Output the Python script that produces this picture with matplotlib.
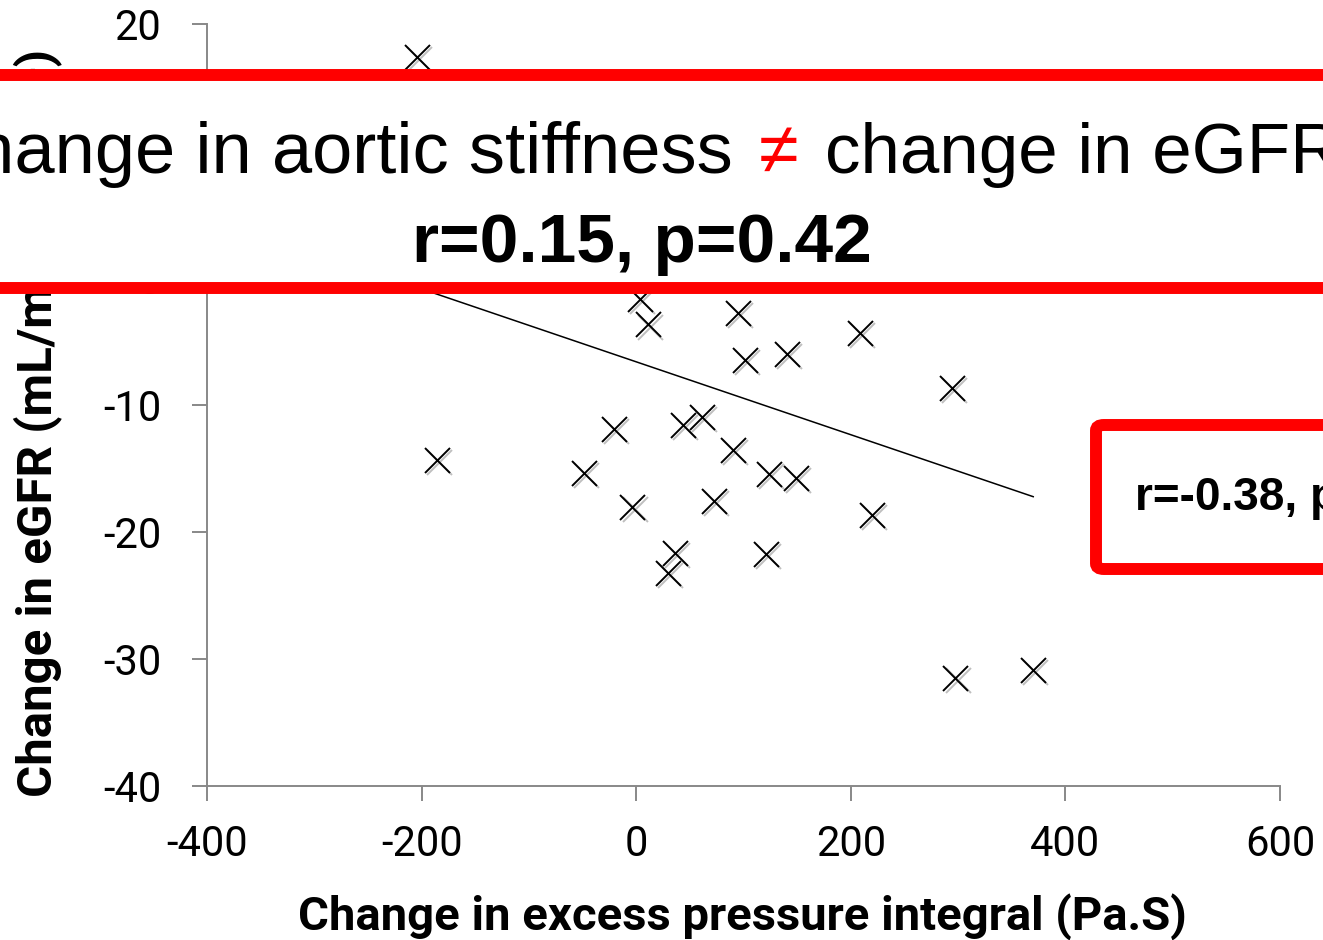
import numpy as np
import matplotlib
matplotlib.use('Agg')
import matplotlib.pyplot as plt
from matplotlib import patches
from matplotlib import patheffects as pe

plt.rcParams['axes.unicode_minus'] = False

# change in excess pressure integral (Pa.S) vs change in eGFR
epi_change = [-204, 4, 11, 95, 102, 141, 209, 295, -185, -48, -20, -3, 44, 62,
              91, 124, 149, 73, 37, 30, 121, 220, 298, 370]
egfr_change = [17.4, -1.7, -3.7, -2.8, -6.5, -6.0, -4.4, -8.7, -14.4, -15.4, -11.9,
               -18.1, -11.6, -11.0, -13.6, -15.5, -15.8, -17.6, -21.7, -23.3, -21.8,
               -18.7, -31.5, -30.9]

# trend line
trend_slope = -0.0287
trend_intercept = -6.6

x_ticks = [-400, -200, 0, 200, 400, 600]
y_ticks = [-40, -30, -20, -10, 0, 10, 20]

title_left = 'Change in aortic stiffness'
title_sign = '\u2260'
title_right = 'change in eGFR'
title_stats = 'r=0.15, p=0.42'
box_stats = 'r=-0.38, p'

W, H = 1323, 940
fig = plt.figure(figsize=(W / 100, H / 100), dpi=100)
ax = fig.add_axes([207 / W, 1 - 786 / H, (1280 - 207) / W, (786 - 24) / H])

grey = '#888888'
ax.plot(epi_change, egfr_change, linestyle='none', marker='x', markersize=18,
        markeredgewidth=1.4, color='black',
        path_effects=[pe.SimpleLineShadow(offset=(1.5, -1.5), alpha=0.25), pe.Normal()])

xs = np.array([min(epi_change), max(epi_change)])
ax.plot(xs, trend_slope * xs + trend_intercept, color='black', linewidth=1.1)

ax.set_xlim(-400, 600)
ax.set_ylim(-40, 20)
ax.set_xticks(x_ticks)
ax.set_yticks(y_ticks)
for s in ['top', 'right']:
    ax.spines[s].set_visible(False)
for s in ['left', 'bottom']:
    ax.spines[s].set_color(grey)
    ax.spines[s].set_linewidth(1.4)
ax.tick_params(direction='out', length=11, width=1.4, color=grey, labelsize=30)
ax.tick_params(axis='x', pad=16)
ax.tick_params(axis='y', pad=22)
for lab in ax.get_xticklabels() + ax.get_yticklabels():
    lab.set_fontfamily('Roboto')

fig.text(742 / W, 1 - 930 / H, 'Change in excess pressure integral (Pa.S)',
         ha='center', va='baseline', fontsize=34, fontweight='bold', family='Roboto')
fig.text(38 / W, 1 - 797 / H, 'Change in eGFR (mL/min/1.73m\u00b2)', rotation=90,
         ha='center', va='bottom', fontsize=35.5, fontweight='bold', family='Roboto')

# big title box
fig.add_artist(patches.Rectangle((-30 / W, 1 - 288 / H), (W + 60) / W, (288 - 75) / H,
                                 transform=fig.transFigure, facecolor='white',
                                 edgecolor='#ff0000', linewidth=8.6, zorder=5))
fam = ['Liberation Sans', 'DejaVu Sans']
fig.text(733 / W, 1 - 173 / H, title_left, ha='right', va='baseline',
         fontsize=52, family=fam, zorder=6)
fig.text(779 / W, 1 - 173 / H, title_sign, ha='center', va='baseline',
         fontsize=52, family=fam, color='#ff0000', zorder=6)
fig.text(825 / W, 1 - 173 / H, title_right, ha='left', va='baseline',
         fontsize=51, family=fam, zorder=6)
fig.text(642 / W, 1 - 262 / H, title_stats, ha='center', va='baseline',
         fontsize=50, fontweight='bold', family=fam, zorder=6)

# right stats box
fig.add_artist(patches.FancyBboxPatch((1096 / W, 1 - 569 / H), 300 / W, (569 - 425) / H,
                                      boxstyle='round,pad=0,rounding_size=0.006',
                                      transform=fig.transFigure, facecolor='white',
                                      edgecolor='#ff0000', linewidth=8.6, zorder=5))
fig.text(1135 / W, 1 - 510 / H, box_stats, ha='left', va='baseline',
         fontsize=33, fontweight='bold', family=fam, zorder=6)

fig.savefig('out.png', dpi=100)
